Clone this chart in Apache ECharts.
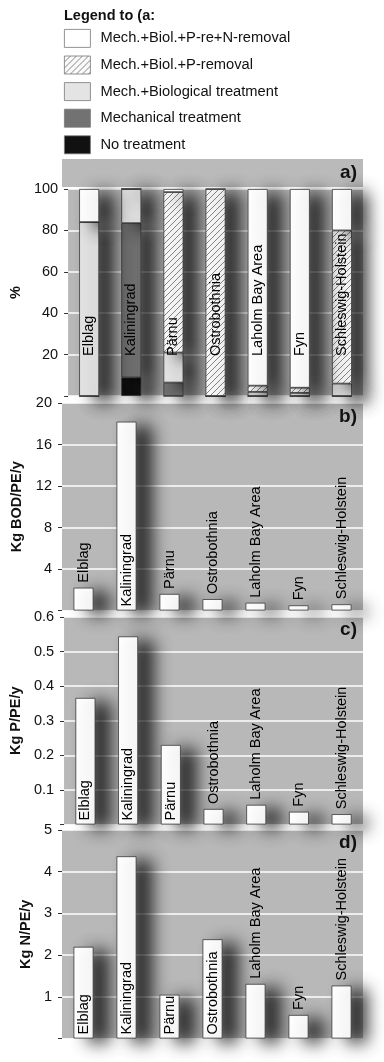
<!DOCTYPE html>
<html><head><meta charset="utf-8">
<script src="https://cdn.jsdelivr.net/npm/echarts@6/dist/echarts.min.js"></script>
<style>html,body{margin:0;padding:0;background:#fff}#c{width:384px;height:1062px}</style>
</head><body><div id="c"></div>
<script>
// ---- data ----
const categories = ['Elblag','Kaliningrad','Pärnu','Ostrobothnia','Laholm Bay Area','Fyn','Schleswig-Holstein'];
// panel a (% of PE), stacked from bottom to top
const noTreatment    = [0, 9, 0, 0, 0, 0, 0];
const mechanical     = [0, 74.5, 6.5, 0, 0, 0, 0];
const mechBiological = [84, 16.5, 14.5, 0, 2, 1.5, 6];
const mechBiolP      = [0, 0, 77.5, 100, 3, 2.5, 74];
const mechBiolPN     = [16, 0, 1.5, 0, 95, 96, 20];
// panels b-d
const bod        = [2.2, 18.2, 1.6, 1.1, 0.75, 0.5, 0.6];
const phosphorus = [0.366, 0.544, 0.23, 0.045, 0.057, 0.037, 0.03];
const nitrogen   = [2.2, 4.37, 1.05, 2.38, 1.31, 0.565, 1.27];
const legendNames = ['Mech.+Biol.+P-re+N-removal','Mech.+Biol.+P-removal','Mech.+Biological treatment','Mechanical treatment','No treatment'];

// ---- styling ----
const FONT = '"Liberation Sans", Arial, sans-serif';
const LBL = 14.5;
const BG = '#b8b8b8';
const GRID_L = 62, GRID_R = 21;
const panels = [
  {top: 189, height: 207, max: 100, interval: 20, name: '%'},
  {top: 403, height: 207.5, max: 20, interval: 4, name: 'Kg BOD/PE/y', data: bod},
  {top: 617, height: 207.5, max: 0.6, interval: 0.1, name: 'Kg P/PE/y', data: phosphorus},
  {top: 830, height: 208.5, max: 5, interval: 1, name: 'Kg N/PE/y', data: nitrogen}
];

// hatch pattern
const pc = document.createElement('canvas');
pc.width = 6; pc.height = 6;
const pctx = pc.getContext('2d');
pctx.fillStyle = '#fafafa'; pctx.fillRect(0,0,6,6);
pctx.strokeStyle = '#6a6a6a'; pctx.lineWidth = 0.8;
pctx.beginPath();
pctx.moveTo(0,6); pctx.lineTo(6,0);
pctx.moveTo(-1,1); pctx.lineTo(1,-1);
pctx.moveTo(5,7); pctx.lineTo(7,5);
pctx.stroke();
const hatch = {image: pc, repeat: 'repeat'};

const mctx = document.createElement('canvas').getContext('2d');
mctx.font = LBL + 'px "Liberation Sans"';
function textW(s){ return mctx.measureText(s).width; }

const shadow = {shadowColor: 'rgba(0,0,0,0.85)', shadowBlur: 17, shadowOffsetX: 15, shadowOffsetY: 4};
const border = {borderColor: '#3a3a3a', borderWidth: 0.8};

const grids = [], xAxes = [], yAxes = [], series = [];
panels.forEach((p, i) => {
  grids.push({left: GRID_L, right: GRID_R, top: p.top, height: p.height, show: true, backgroundColor: BG, borderWidth: 0});
  xAxes.push({type: 'category', gridIndex: i, data: categories, axisLine: {show: false}, axisTick: {show: false}, axisLabel: {show: false}});
  yAxes.push({
    type: 'value', gridIndex: i, min: 0, max: p.max, interval: p.interval,
    name: p.name, nameLocation: 'middle', nameGap: 26,
    nameTextStyle: {fontFamily: FONT, fontWeight: 'bold', fontSize: 14.5, color: '#111'},
    axisLine: {show: false},
    axisTick: {show: true, length: 4, lineStyle: {color: '#333', width: 1}},
    axisLabel: {fontFamily: FONT, fontSize: 14.5, color: '#111', margin: 10,
      formatter: v => v === 0 ? '' : (p.max < 1 ? v.toFixed(1) : String(v))},
    splitLine: {show: true, lineStyle: {color: '#ffffff', width: 1.6}}
  });
});

// panel a stacked series (bottom to top)
const stackDefs = [
  {name: 'No treatment', data: noTreatment, color: '#111111'},
  {name: 'Mechanical treatment', data: mechanical, color: '#727272'},
  {name: 'Mech.+Biological treatment', data: mechBiological, color: '#e4e4e4'},
  {name: 'Mech.+Biol.+P-removal', data: mechBiolP, color: hatch},
  {name: 'Mech.+Biol.+P-re+N-removal', data: mechBiolPN, color: '#ffffff'}
];
stackDefs.forEach(s => {
  series.push({
    type: 'bar', name: s.name, stack: 'a', xAxisIndex: 0, yAxisIndex: 0,
    barWidth: 20, barGap: '-100%', data: s.data,
    itemStyle: Object.assign({color: s.color}, border, shadow),
    emphasis: {disabled: true}, z: 2
  });
});
// category labels of panel a (on the stacked totals)
const totals = categories.map((c, k) => stackDefs.reduce((a, s) => a + s.data[k], 0));
series.push({
  type: 'bar', name: 'labels', xAxisIndex: 0, yAxisIndex: 0, barWidth: 20, barGap: '-100%',
  data: totals, itemStyle: {color: 'rgba(0,0,0,0)'}, z: 5, silent: true,
  label: {show: true, position: 'insideBottom', distance: 40, rotate: 90, align: 'left', verticalAlign: 'middle',
    fontFamily: FONT, fontSize: LBL, color: '#000', formatter: p => p.name}
});

// panels b-d
panels.slice(1).forEach((p, j) => {
  const idx = j + 1;
  const data = p.data.map((v, k) => {
    const px = v / p.max * p.height;
    const inside = px > textW(categories[k]) + 4;
    return {value: v, label: {position: inside ? 'insideBottom' : 'top', distance: inside ? 4 : 5}};
  });
  series.push({
    type: 'bar', xAxisIndex: idx, yAxisIndex: idx, barWidth: 20, data: data,
    itemStyle: Object.assign({color: '#ffffff'}, border, shadow),
    emphasis: {disabled: true},
    label: {show: true, rotate: 90, align: 'left', verticalAlign: 'middle',
      fontFamily: FONT, fontSize: LBL, color: '#000', formatter: q => q.name}
  });
});

const chart = echarts.init(document.getElementById('c'), null, {renderer: 'canvas'});
chart.setOption({
  animation: false,
  backgroundColor: '#ffffff',
  title: {text: 'Legend to (a:', left: 64, top: 8, padding: 0, textStyle: {fontFamily: FONT, fontWeight: 'bold', fontSize: 14.5, color: '#111'}},
  legend: {
    data: legendNames, orient: 'vertical', left: 64, top: 29, padding: 0,
    itemWidth: 26, itemHeight: 18, itemGap: 7.8, icon: 'rect',
    itemStyle: {borderColor: '#777', borderWidth: 0.8, shadowBlur: 0, shadowOffsetX: 0, shadowOffsetY: 0, shadowColor: 'rgba(0,0,0,0)'},
    textStyle: {fontFamily: FONT, fontSize: 14.7, color: '#111', padding: [7, 0, 0, 5]},
    selectedMode: false
  },
  graphic: [
    {type: 'rect', left: GRID_L, top: 159, shape: {width: 384 - GRID_L - GRID_R, height: 28}, style: {fill: '#bababa'}, z: 0},
    {type: 'text', right: GRID_R + 6, top: 163, style: {text: 'a)', font: 'bold 19px ' + FONT, fill: '#111'}, z: 10},
    {type: 'text', right: GRID_R + 6, top: 407, style: {text: 'b)', font: 'bold 19px ' + FONT, fill: '#111'}, z: 10},
    {type: 'text', right: GRID_R + 6, top: 620, style: {text: 'c)', font: 'bold 19px ' + FONT, fill: '#111'}, z: 10},
    {type: 'text', right: GRID_R + 6, top: 833, style: {text: 'd)', font: 'bold 19px ' + FONT, fill: '#111'}, z: 10}
  ],
  grid: grids, xAxis: xAxes, yAxis: yAxes, series: series
});
</script></body></html>
